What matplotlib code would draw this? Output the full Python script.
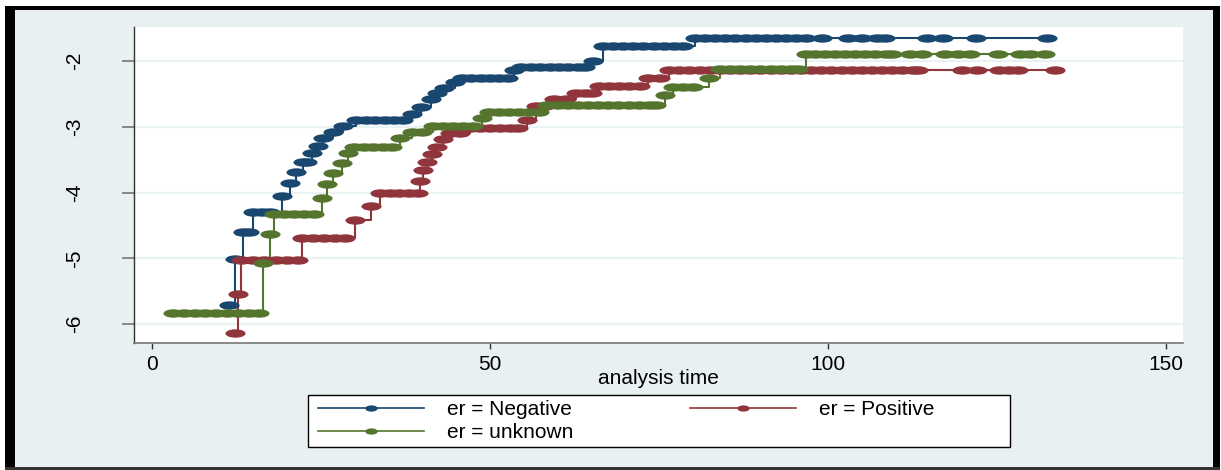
import matplotlib.pyplot as plt
from matplotlib.lines import Line2D
from matplotlib.patches import Rectangle
from matplotlib.path import Path
from matplotlib.transforms import Affine2D

# ln(-ln S) steps, per group
neg_time = [11.4, 12.3, 13.5, 14.4, 14.9, 16.2, 17.5, 19.3, 20.4, 21.3, 22.3, 23.0,
            23.7, 24.6, 25.3, 26.8, 28.3, 30.2, 31.6, 33.0, 34.4, 35.8, 37.2, 38.4,
            39.8, 41.3, 42.2, 43.2, 44.8, 45.8, 47.2, 48.6, 50.0, 51.4, 52.6, 53.5,
            54.6, 56.0, 57.4, 58.8, 60.2, 61.6, 63.0, 64.0, 65.2, 66.7, 68.2, 69.7,
            71.2, 72.7, 74.2, 75.7, 77.2, 78.6, 80.3, 81.8, 83.3, 84.8, 86.3, 87.8,
            89.3, 90.8, 92.3, 93.8, 95.3, 96.8, 99.1, 103.0, 105.0, 107.2, 108.4,
            114.6, 117.0, 121.9, 132.4]
neg_val = [-5.71, -5.01, -4.60, -4.60, -4.30, -4.30, -4.30, -4.05, -3.86, -3.69, -3.54, -3.54,
           -3.40, -3.29, -3.17, -3.08, -2.98, -2.89, -2.89, -2.89, -2.89, -2.89, -2.89, -2.80,
           -2.70, -2.58, -2.49, -2.41, -2.32, -2.25, -2.25, -2.25, -2.25, -2.25, -2.25, -2.14,
           -2.09, -2.09, -2.09, -2.09, -2.09, -2.09, -2.09, -2.09, -1.99, -1.77, -1.77, -1.77,
           -1.77, -1.77, -1.77, -1.77, -1.77, -1.77, -1.64, -1.64, -1.64, -1.64, -1.64, -1.64,
           -1.64, -1.64, -1.64, -1.64, -1.64, -1.64, -1.64, -1.64, -1.64, -1.64, -1.64,
           -1.64, -1.64, -1.64, -1.64]

pos_time = [12.3, 12.7, 13.2, 14.9, 16.6, 18.3, 20.0, 21.6, 22.2, 23.8, 25.4, 27.0,
            28.6, 30.0, 32.4, 33.8, 35.2, 36.6, 38.0, 39.3, 39.6, 40.1, 40.7, 41.4,
            42.2, 43.0, 44.1, 45.6, 47.0, 48.5, 50.0, 51.5, 53.0, 54.1, 55.5, 56.8,
            58.2, 59.4, 61.2, 62.7, 64.0, 65.1, 66.1, 67.6, 69.1, 70.6, 72.2, 73.3,
            75.2, 76.5, 78.0, 79.5, 81.0, 82.5, 84.0, 85.5, 87.0, 88.5, 90.0, 91.5,
            93.0, 94.5, 96.0, 97.5, 99.0, 100.5, 102.0, 103.5, 105.0, 106.5, 108.0,
            109.5, 111.0, 112.5, 113.3, 119.8, 122.0, 125.3, 126.7, 128.1, 133.6]
pos_val = [-6.14, -5.55, -5.03, -5.03, -5.03, -5.03, -5.03, -5.03, -4.69, -4.69, -4.69, -4.69,
           -4.69, -4.42, -4.21, -4.01, -4.01, -4.01, -4.01, -4.01, -3.83, -3.66, -3.54, -3.42,
           -3.31, -3.19, -3.10, -3.10, -3.02, -3.02, -3.02, -3.02, -3.02, -3.02, -2.90, -2.69,
           -2.69, -2.58, -2.58, -2.49, -2.49, -2.49, -2.38, -2.38, -2.38, -2.38, -2.38, -2.26,
           -2.26, -2.14, -2.14, -2.14, -2.14, -2.14, -2.14, -2.14, -2.14, -2.14, -2.14, -2.14,
           -2.14, -2.14, -2.14, -2.14, -2.14, -2.14, -2.14, -2.14, -2.14, -2.14, -2.14,
           -2.14, -2.14, -2.14, -2.14, -2.14, -2.14, -2.14, -2.14, -2.14, -2.14]

unk_time = [3.1, 4.7, 6.3, 7.9, 9.5, 11.1, 12.7, 14.3, 15.8, 16.4, 17.5, 18.0,
            19.5, 21.0, 22.5, 23.9, 25.1, 25.9, 26.8, 28.1, 29.0, 29.9, 31.3, 32.7,
            34.1, 35.5, 36.7, 38.5, 40.0, 41.5, 43.0, 44.5, 46.0, 47.5, 48.8, 49.8,
            51.3, 52.8, 54.3, 55.8, 57.3, 58.5, 60.0, 61.5, 63.0, 64.5, 66.0, 67.5,
            69.0, 70.5, 72.0, 73.5, 74.5, 75.9, 77.0, 78.5, 80.0, 82.4, 84.0, 85.5,
            87.0, 88.5, 90.0, 91.5, 93.0, 94.5, 95.6, 96.7, 98.0, 99.5, 101.0, 102.5,
            104.0, 105.5, 107.0, 108.5, 109.5, 112.1, 113.9, 117.3, 119.2, 121.0,
            125.1, 128.4, 129.9, 132.1]
unk_val = [-5.83, -5.83, -5.83, -5.83, -5.83, -5.83, -5.83, -5.83, -5.83, -5.07, -4.63, -4.33,
           -4.33, -4.33, -4.33, -4.33, -4.08, -3.87, -3.70, -3.55, -3.40, -3.31, -3.31, -3.31,
           -3.31, -3.31, -3.17, -3.08, -3.08, -2.98, -2.98, -2.98, -2.98, -2.98, -2.87, -2.78,
           -2.78, -2.78, -2.78, -2.78, -2.78, -2.67, -2.67, -2.67, -2.67, -2.67, -2.67, -2.67,
           -2.67, -2.67, -2.67, -2.67, -2.67, -2.52, -2.40, -2.40, -2.40, -2.25, -2.12, -2.12,
           -2.12, -2.12, -2.12, -2.12, -2.12, -2.12, -2.12, -1.89, -1.89, -1.89, -1.89, -1.89,
           -1.89, -1.89, -1.89, -1.89, -1.89, -1.89, -1.89, -1.89, -1.89, -1.89,
           -1.89, -1.89, -1.89, -1.89]

labels = ["er = Negative", "er = Positive", "er = unknown"]
colors = ["#1a476f", "#90353b", "#55752f"]
x_ticks = [0, 50, 100, 150]
y_ticks = [-6, -5, -4, -3, -2]

W, H = 1221, 470
bg = "#e8f0f2"

# the original export is stretched sideways, so the markers are ovals
oval = Path.unit_circle().transformed(Affine2D().scale(2.4, 1.0))
oval_leg = Path.unit_circle().transformed(Affine2D().scale(2.0, 1.0))

plt.rcParams["font.family"] = ["Liberation Sans", "DejaVu Sans"]

fig = plt.figure(figsize=(W / 100, H / 100), dpi=100)
fig.patch.set_facecolor("white")


def box(x0, y0, x1, y1, face, edge="none", z=-5):
    # pixel box (top-left origin) -> figure rectangle
    fig.add_artist(Rectangle((x0 / W, 1 - y1 / H), (x1 - x0) / W, (y1 - y0) / H,
                             transform=fig.transFigure, facecolor=face,
                             edgecolor=edge, lw=1.0, zorder=z))


box(15, 10, 1213, 468, bg)
box(5, 6, 15, 470, "black")
box(5, 6, 1220, 10, "black")
box(1213, 6, 1220, 470, "black")
box(5, 467, 1220, 470, "#333333")
# legend frame, drawn by hand so it spans like the original
box(308, 395, 1010, 447, "white", edge="black", z=1)

ax = fig.add_axes([134 / W, 1 - 343 / H, (1183 - 134) / W, (343 - 27) / H])
ax.set_facecolor("white")

series = [(neg_time, neg_val), (pos_time, pos_val), (unk_time, unk_val)]
for (t, v), c, lab in zip(series, colors, labels):
    ax.plot(t, v, drawstyle="steps-post", color=c, lw=1.5, zorder=2)
    ax.plot(t, v, ls="none", marker=oval, markersize=14.5, color=c,
            markeredgewidth=0, label=lab, zorder=3)

ax.set_xlim(-2.66, 152.5)
ax.set_ylim(-6.29, -1.48)
ax.set_xticks(x_ticks)
ax.set_yticks(y_ticks)
ax.set_yticklabels(["-6", "-5", "-4", "-3", "-2"])
ax.yaxis.grid(True, color="#eaf2f3", lw=1.6)
ax.set_axisbelow(True)

for s in ["top", "right"]:
    ax.spines[s].set_visible(False)
ax.spines["left"].set_color("#333333")
ax.spines["bottom"].set_color("#777777")
ax.spines["left"].set_linewidth(1.0)
ax.spines["bottom"].set_linewidth(1.2)

ax.tick_params(axis="y", length=8.6, width=1.2, color="#777777", pad=27,
               labelsize=15, labelrotation=90)
ax.tick_params(axis="x", length=4.5, width=1.0, color="#333333", pad=4,
               labelsize=15)
for lbl in ax.get_yticklabels():
    lbl.set_va("center")

ax.set_xlabel("analysis time", fontsize=15, va="center")
ax.xaxis.set_label_coords(0.5, (343 - 379) / (343 - 27))

handles = [Line2D([], [], color=c, lw=1.2, marker=oval_leg, markersize=9,
                  markeredgewidth=0) for c in colors]
order = [0, 2, 1]
leg = fig.legend([handles[i] for i in order], [labels[i] for i in order],
                 ncol=2, loc="upper left", bbox_to_anchor=(318 / W, 1 - 400 / H),
                 fontsize=15, frameon=False, handlelength=5.1,
                 handletextpad=1.1, columnspacing=5.6, labelspacing=0.2,
                 borderpad=0.0, borderaxespad=0)
leg.set_zorder(2)

fig.savefig("out.png", dpi=100)
